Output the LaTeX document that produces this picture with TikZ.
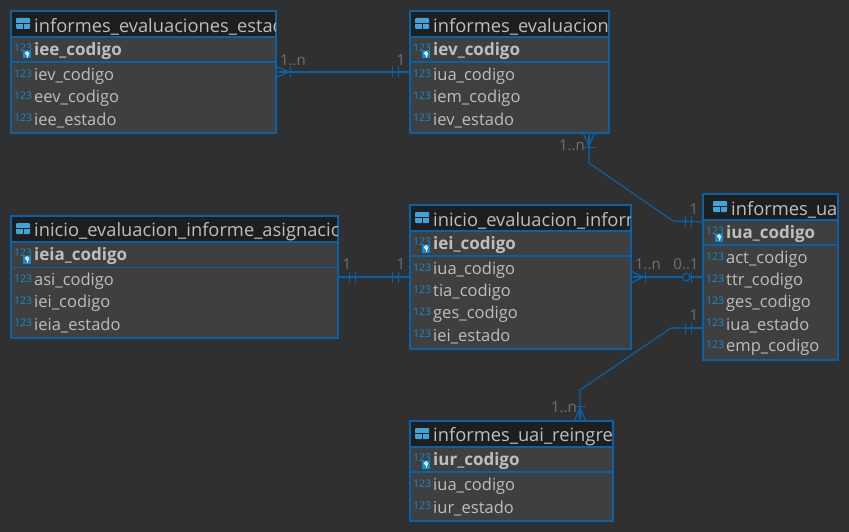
\documentclass[tikz,border=0pt]{standalone}
\usepackage{fontspec}
\setmainfont{Open Sans}
\usetikzlibrary{arrows.meta,calc}
\definecolor{canvas}{RGB}{48,48,48}
\definecolor{titlebar}{RGB}{30,30,30}
\definecolor{tablebody}{RGB}{63,63,63}
\definecolor{petrol}{RGB}{8,98,170}
\definecolor{fieldtext}{RGB}{190,190,190}
\definecolor{iconblue}{RGB}{14,142,209}
\definecolor{cardgrey}{RGB}{112,112,112}
\tikzset{
  tablebox/.style={draw=petrol,line width=2pt,fill=tablebody,anchor=north west,inner sep=0pt,outer sep=0pt},
  titletext/.style={anchor=west,inner sep=0pt,text=fieldtext,font=\fontsize{18.3}{18}\selectfont},
  pktext/.style={anchor=west,inner sep=0pt,text=fieldtext,font=\fontsize{17}{17}\bfseries\selectfont},
  fieldname/.style={anchor=west,inner sep=0pt,text=fieldtext,font=\fontsize{16.5}{17}\selectfont},
  typetext/.style={anchor=west,inner sep=0pt,text=iconblue,font=\fontsize{10.5}{11}\selectfont},
  card/.style={inner sep=0pt,text=cardgrey,font=\fontsize{15}{15}\selectfont},
  rel/.style={draw=petrol,line width=1.2pt},
  keyline/.style={line width=1.3pt},
  titlepos/.style={},
  % line pieces between the marks of a connector end
  one/.tip={Bar[width=11pt,line width=1.2pt,sep=0pt]Rectangle[length=5pt,width=1.2pt,line width=0pt,sep=0pt]Bar[width=11pt,line width=1.2pt,sep=0pt]Rectangle[length=11pt,width=1.2pt,line width=0pt,sep=0pt]},
  crow/.tip={Bar[width=11pt,line width=1.2pt,sep=0pt]Rectangle[length=12pt,width=1.2pt,line width=0pt,sep=-12pt]Straight Barb[reversed,length=12pt,width=11pt,line width=1.2pt,sep=0pt]},
  optone/.tip={Circle[open,length=9pt,width=9pt,line width=1.2pt,fill=canvas,sep=0pt]Bar[width=11pt,line width=1.2pt,sep=0pt]Rectangle[length=11pt,width=1.2pt,line width=0pt,sep=0pt]}
}
% #1 name, #2 x, #3 y, #4 width, #5 number of fields, #6 title, #7 key, #8 fields
\newcommand{\ertable}[8]{
  \node[tablebox,minimum width=#4pt,minimum height={(56+22*#5)*1pt}] (#1) at (#2,#3) {};
  \fill[titlebar] (#2+1,#3+1) rectangle (#2+#4-1,#3+26);
  \draw[petrol,line width=1.3pt] (#2,#3+26) -- (#2+#4,#3+26);
  \draw[petrol,keyline] (#2,#3+51) -- (#2+#4,#3+51);
  % table icon
  \fill[iconblue!80!white,rounded corners=1pt,titlepos] (#2+5,#3+7) rectangle (#2+19,#3+18);
  \draw[titlebar,line width=0.8pt,titlepos] (#2+5,#3+12.5) -- (#2+19,#3+12.5) (#2+12,#3+12.5) -- (#2+12,#3+18);
  \begin{scope}
    \clip (#2+1,#3+1) rectangle (#2+#4-1,#3+26);
    \node[titletext,titlepos] (#1title) at (#2+23,#3+15.5) {#6};
  \end{scope}
  \node[typetext] (#1keytype) at (#2+3,#3+37) {123};
  \fill[iconblue] (#2+12,#3+40) rectangle (#2+20,#3+47.5);
  \draw[white,line width=1pt] (#2+16,#3+42.3) circle (1.5) (#2+17.3,#3+43) -- (#2+16.2,#3+46.5);
  \node[pktext] (#1key) at (#2+23,#3+40.5) {#7};
  \foreach \fld [count=\n] in {#8} {
    \node[typetext] (#1type\n) at (#2+3,#3+41+22*\n) {123};
    \node[fieldname] (#1field\n) at (#2+23,#3+43.5+22*\n) {\fld};
  }
}

\begin{document}
\begin{tikzpicture}[x=1pt,y=-1pt]

    \fill[canvas] (0,0) rectangle (849,532);
    \useasboundingbox (0,0) rectangle (849,532);

    \ertable{iee}{11}{11}{265}{3}{informes\_evaluaciones\_estado}{iee\_codigo}{iev\_codigo,eev\_codigo,iee\_estado}
    \ertable{iev}{410}{11}{199}{3}{informes\_evaluaciones}{iev\_codigo}{iua\_codigo,iem\_codigo,iev\_estado}
    \begin{scope}[keyline/.style={line width=0.7pt}]
    \ertable{ieia}{11}{216}{327}{3}{inicio\_evaluacion\_informe\_asignacion}{ieia\_codigo}{asi\_codigo,iei\_codigo,ieia\_estado}
    \end{scope}
    \ertable{iei}{410}{205}{221}{4}{inicio\_evaluacion\_informe}{iei\_codigo}{iua\_codigo,tia\_codigo,ges\_codigo,iei\_estado}
    \begin{scope}[titlepos/.style={xshift=5pt}]
    \ertable{iua}{703}{194}{135}{5}{informes\_uai}{iua\_codigo}{act\_codigo,ttr\_codigo,ges\_codigo,iua\_estado,emp\_codigo}
    \end{scope}
    \ertable{iur}{410}{421}{203}{2}{informes\_uai\_reingreso}{iur\_codigo}{iua\_codigo,iur\_estado}

    % connector ends away from the middle of a side
    \coordinate (ievS) at ($(iev.south west)+(179,0)$);
    \coordinate (iuaA) at ($(iua.north west)+(0,28)$);
    \coordinate (iuaB) at ($(iua.north west)+(0,134)$);
    \coordinate (iurN) at ($(iur.north west)+(170,0)$);

    \draw[rel,{crow}-{one}] (iee.east) -- (iev.west);
    \draw[rel,{crow}-{one}] (ievS) -- ++(0,30) -- ++(84,58) -- (iuaA);
    \draw[rel,{one}-{one}] (ieia.east) -- (iei.west);
    \draw[rel,{crow}-{optone}] (iei.east) -- (iua.west);
    \draw[rel,{crow}-{one}] (iurN) -- ++(0,-31) -- ++(91,-62) -- (iuaB);

    \node[card] (c1a) at (293,60) {1..n};
    \node[card] (c1b) at (401,60) {1};
    \node[card] (c2a) at (572,145) {1..n};
    \node[card] (c2b) at (694,209) {1};
    \node[card] (c3a) at (347,264) {1};
    \node[card] (c3b) at (401,264) {1};
    \node[card] (c4a) at (648,264) {1..n};
    \node[card] (c4b) at (686,264) {0..1};
    \node[card] (c5a) at (564,407) {1..n};
    \node[card] (c5b) at (694,315) {1};

\end{tikzpicture}
\end{document}
